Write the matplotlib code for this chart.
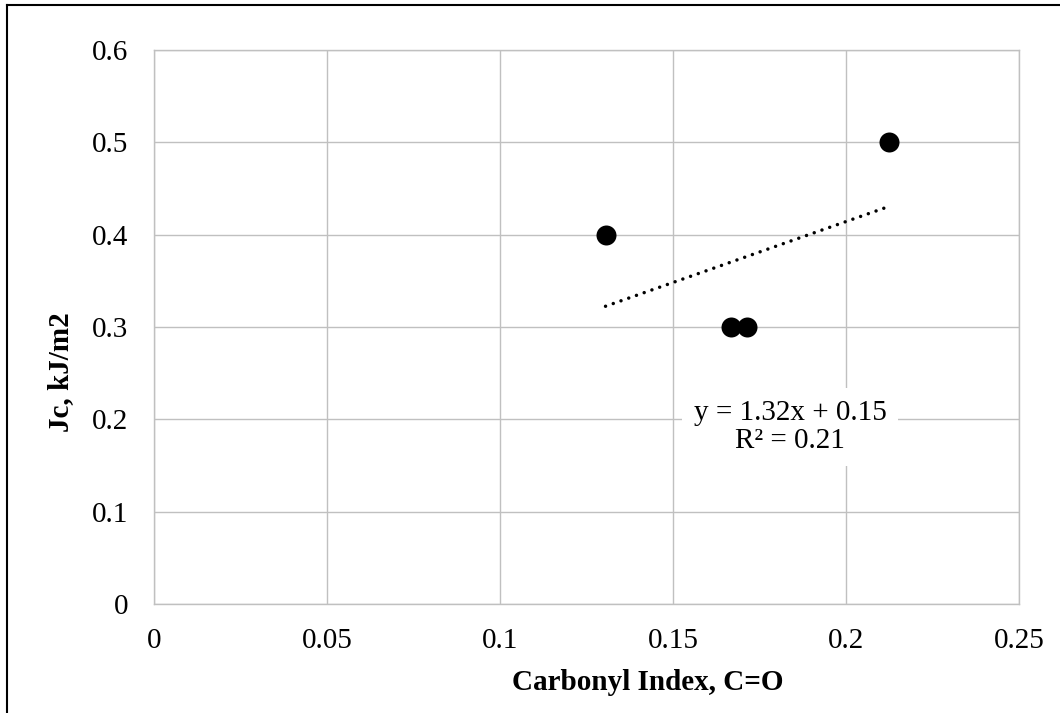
import numpy as np
import matplotlib
matplotlib.use("Agg")
import matplotlib.pyplot as plt
from matplotlib.lines import Line2D

# Data
carbonyl_index = [0.1305, 0.1667, 0.1715, 0.2125]
jc_values = [0.4, 0.3, 0.3, 0.5]
x_ticks = [0, 0.05, 0.1, 0.15, 0.2, 0.25]
x_tick_labels = ["0", "0.05", "0.1", "0.15", "0.2", "0.25"]
y_ticks = [0, 0.1, 0.2, 0.3, 0.4, 0.5, 0.6]
y_tick_labels = ["0", "0.1", "0.2", "0.3", "0.4", "0.5", "0.6"]
equation_text = "y = 1.32x + 0.15\nR² = 0.21"
x_label = "Carbonyl Index, C=O"
y_label = "Jc, kJ/m2"

plt.rcParams['font.family'] = ['Liberation Serif', 'DejaVu Serif']

W, H = 1060, 713
fig = plt.figure(figsize=(W / 100, H / 100), dpi=100)
ax = fig.add_axes([154 / W, 1 - 604 / H, (1019 - 154) / W, (604 - 50) / H])

grid_color = '#C0C0C0'
ax.set_xlim(0, 0.25)
ax.set_ylim(0, 0.6)
ax.set_xticks(x_ticks)
ax.set_xticklabels(x_tick_labels)
ax.set_yticks(y_ticks)
ax.set_yticklabels(y_tick_labels)
ax.tick_params(length=0, labelsize=21, colors='black')
ax.tick_params(axis='x', pad=17)
ax.tick_params(axis='y', pad=18.5)
ax.grid(True, color=grid_color, linewidth=1.0, zorder=0)
ax.set_axisbelow(True)
for s in ax.spines.values():
    s.set_color(grid_color)
    s.set_linewidth(1.0)

# Trendline (linear fit of data)
slope, intercept = np.polyfit(carbonyl_index, jc_values, 1)
xt = np.array([min(carbonyl_index), max(carbonyl_index)])
ax.plot(xt, slope * xt + intercept, color='black', linewidth=2.5,
        linestyle=(0, (0.01, 2.35)), dash_capstyle='round', zorder=2)

ax.plot(carbonyl_index, jc_values, 'o', color='black', markersize=14.4,
        markeredgewidth=0, zorder=3)

ax.text(0.1838, 0.1915, equation_text, ha='center', va='center',
        multialignment='center', fontsize=21, linespacing=1.12, zorder=4,
        bbox=dict(boxstyle='square,pad=0.4', fc='white', ec='none'))

fig.text(648 / W, 1 - 683 / H, x_label, ha='center', va='center',
         fontsize=21, fontweight='bold')
fig.text(61 / W, 1 - 372 / H, y_label, ha='center', va='center',
         rotation=90, fontsize=21, fontweight='bold')

# Outer border (left and top visible)
fig.add_artist(Line2D([7 / W, 7 / W], [0, 1 - 5 / H], transform=fig.transFigure,
                      color='black', linewidth=1.5))
fig.add_artist(Line2D([7 / W, 1], [1 - 5 / H, 1 - 5 / H], transform=fig.transFigure,
                      color='black', linewidth=1.5))

fig.savefig("out.png", dpi=100)
